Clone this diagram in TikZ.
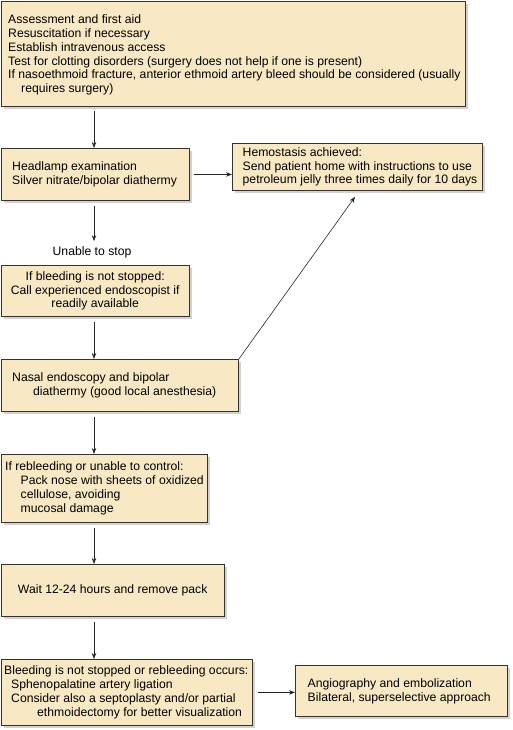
\documentclass[tikz,border=0pt]{standalone}
\usepackage{fontspec}
\setmainfont{Liberation Sans}
\usetikzlibrary{shadows,arrows.meta,calc}
\definecolor{boxfill}{RGB}{248,232,196}
\definecolor{boxline}{RGB}{55,50,45}
\definecolor{shadowc}{RGB}{210,210,210}
\tikzset{
  fbox/.style={draw=boxline, fill=boxfill, line width=0.9pt, anchor=north west,
    inner sep=0pt,
    drop shadow={shadow xshift=3pt, shadow yshift=-3pt, fill=shadowc, opacity=1}},
  txt/.style={font=\fontsize{12.2}{13.8}\selectfont, inner sep=0pt, align=left, anchor=west},
  ctxt/.style={font=\fontsize{12.2}{13.8}\selectfont, inner sep=0pt, align=center},
  arr/.style={-{Stealth[length=6pt,width=4.5pt]}, line width=0.6pt, draw=black!85},
  lbl/.style={font=\fontsize{12.2}{13.8}\selectfont, inner sep=1pt}
}
\newcommand{\fb}[5]{% name, x0,y0,x1,y1
  \node[fbox, minimum width={#4-#2}, minimum height={#5-#3}] (#1) at (#2,#3) {};}
\begin{document}
\begin{tikzpicture}[x=1pt,y=-1pt]
\useasboundingbox (0,0) rectangle (512,730);
\fb{b1}{0.5}{1}{465}{106}
\node[txt] (t1) at ([xshift=7.5pt,yshift=-1pt]b1.west) {Assessment and first aid\\Resuscitation if necessary\\Establish intravenous access\\Test for clotting disorders (surgery does not help if one is present)\\If nasoethmoid fracture, anterior ethmoid artery bleed should be considered (usually\\\hspace*{13pt}requires surgery)};
\fb{b2}{0.5}{148}{189}{200}
\node[txt] (t2) at ([xshift=11.5pt]b2.west) {Headlamp examination\\Silver nitrate/bipolar diathermy};
\fb{b3}{232}{143}{482}{190}
\node[txt] (t3) at ([xshift=10.5pt]b3.west) {Hemostasis achieved:\\Send patient home with instructions to use\\petroleum jelly three times daily for 10 days};
\fb{b4}{0.5}{265}{189}{316}
\node[ctxt] (t4) at (b4.center) {If bleeding is not stopped:\\Call experienced endoscopist if\\readily available};
\fb{b5}{0.5}{359}{238}{411}
\node[txt] (t5) at ([xshift=11.5pt]b5.west) {Nasal endoscopy and bipolar\\\hspace*{21pt}diathermy (good local anesthesia)};
\fb{b6}{0.5}{454}{207}{522}
\node[txt] (t6) at ([xshift=4.5pt]b6.west) {If rebleeding or unable to control:\\\hspace*{15.5pt}Pack nose with sheets of oxidized\\\hspace*{15.5pt}cellulose, avoiding\\\hspace*{15.5pt}mucosal damage};
\fb{b7}{0.5}{564}{224}{616}
\node[ctxt] (t7) at (b7.center) {Wait 12-24 hours and remove pack};
\fb{b8}{0.5}{659}{252}{725}
\node[txt] (t8) at ([xshift=3.5pt]b8.west) {Bleeding is not stopped or rebleeding occurs:\\\hspace*{7pt}Sphenopalatine artery ligation\\\hspace*{7pt}Consider also a septoplasty and/or partial\\\hspace*{33pt}ethmoidectomy for better visualization};
\fb{b9}{295}{665}{507}{716}
\node[txt] (t9) at ([xshift=12.5pt]b9.west) {Angiography and embolization\\Bilateral, superselective approach};
\node[lbl] (unable) at (92,252) {Unable to stop};
\coordinate (tipd) at ($(b3.south west)+(123,6)$);
\draw[arr] ([yshift=-4pt]b1.south -| 94,0) -- (b2.north -| 94,0);
\draw[arr] ([xshift=4pt]b2.east) -- (b2.east -| b3.west);
\draw[arr] ([yshift=-5pt]b2.south -| 94,0) -- ([yshift=4pt]unable.north -| 94,0);
\draw[arr] ([yshift=-5pt]b4.south -| 94,0) -- (b5.north -| 94,0);
\draw[arr] ([yshift=-5pt]b5.south -| 94,0) -- (b6.north -| 94,0);
\draw[arr] ([yshift=-5pt]b6.south -| 94,0) -- (b7.north -| 94,0);
\draw[arr] ([yshift=-5pt]b7.south -| 94,0) -- (b8.north -| 94,0);
\draw[arr] ([xshift=5pt]b8.east) -- (b8.east -| b9.west);
\draw[arr] (b5.north east) -- (tipd);
\end{tikzpicture}
\end{document}
